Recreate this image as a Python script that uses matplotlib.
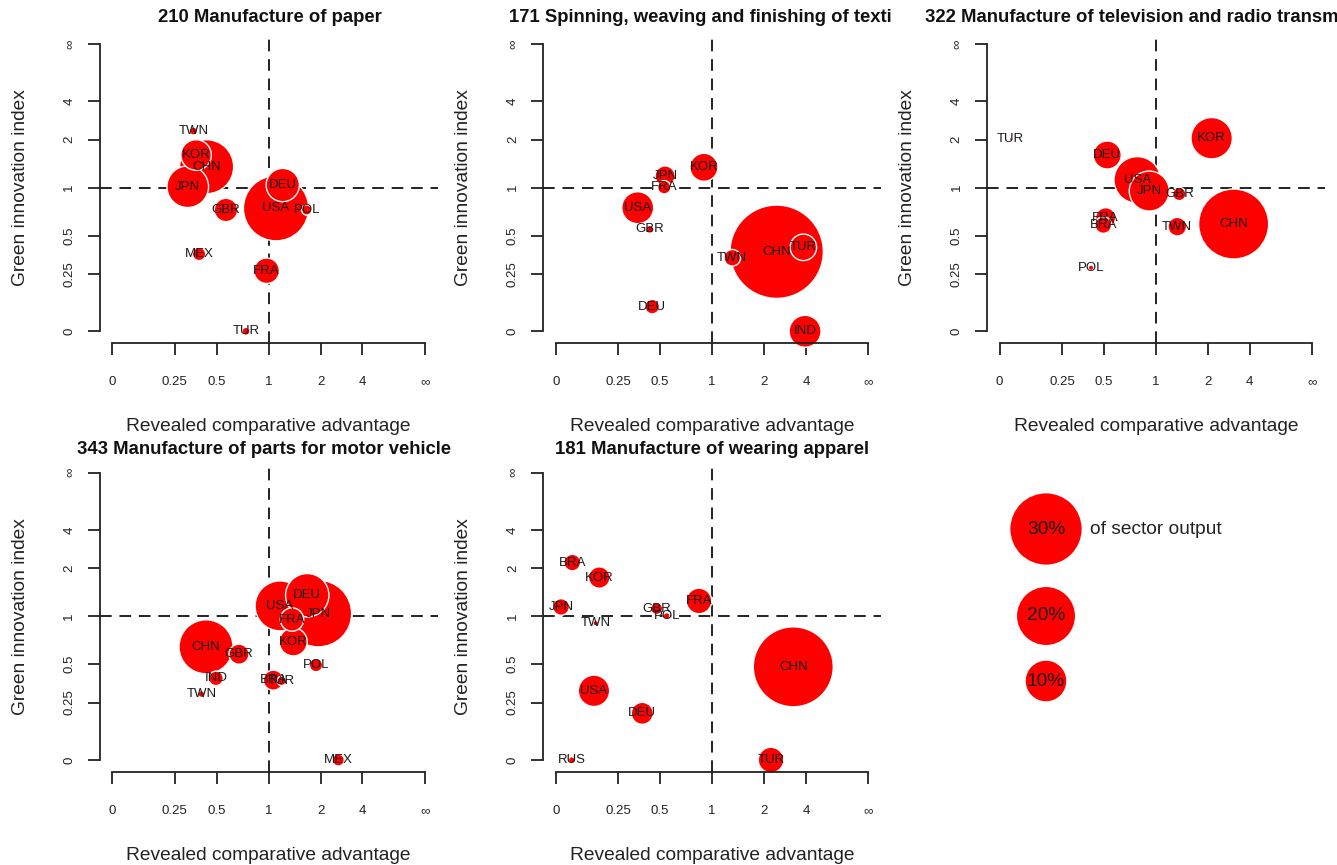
import numpy as np
import matplotlib.pyplot as plt

plt.rcParams['font.family'] = ['Liberation Sans', 'DejaVu Sans']

W, H = 1337, 865

# 210 Manufacture of paper
c210 = ["TWN", "KOR", "CHN", "JPN", "GBR", "MEX", "FRA", "TUR", "DEU", "USA", "POL"]
rca210 = [0.35, 0.366, 0.432, 0.318, 0.571, 0.384, 0.975, 0.747, 1.198, 1.099, 1.643]
gii210 = [2.30, 1.588, 1.341, 1.013, 0.731, 0.368, 0.267, 0.0, 1.037, 0.749, 0.731]
sh210 = [0.36, 5.3, 16.6, 9.85, 3.1, 1.0, 3.7, 0.36, 6.3, 24.2, 0.6]

# 171 Spinning, weaving and finishing of textiles
c171 = ["KOR", "JPN", "FRA", "USA", "GBR", "DEU", "TWN", "CHN", "TUR", "IND"]
rca171 = [0.90, 0.537, 0.531, 0.355, 0.429, 0.446, 1.296, 2.406, 3.80, 3.93]
gii171 = [1.33, 1.177, 1.005, 0.755, 0.55, 0.094, 0.344, 0.383, 0.413, 0.0]
sh171 = [4.46, 2.28, 1.0, 5.8, 0.36, 1.2, 1.57, 49.6, 4.0, 5.8]

# 322 Manufacture of television and radio transmitters
c322 = ["TUR", "DEU", "USA", "JPN", "GBR", "KOR", "CHN", "FRA", "BRA", "TWN", "POL"]
rca322 = [0.037, 0.526, 0.788, 0.919, 1.353, 2.11, 2.98, 0.514, 0.497, 1.318, 0.414]
gii322 = [2.02, 1.588, 1.113, 0.954, 0.915, 2.05, 0.596, 0.654, 0.587, 0.573, 0.284]
sh322 = [0.05, 4.46, 12.4, 9.1, 1.0, 9.75, 27.9, 2.28, 1.57, 1.97, 0.17]

# 343 Manufacture of parts for motor vehicles
c343 = ["CHN", "GBR", "IND", "TWN", "USA", "DEU", "JPN", "FRA", "KOR", "POL", "BRA", "TUR", "MEX"]
rca343 = [0.428, 0.681, 0.496, 0.398, 1.157, 1.656, 1.931, 1.351, 1.374, 1.869, 1.062, 1.182, 2.607]
gii343 = [0.650, 0.583, 0.397, 0.298, 1.157, 1.345, 1.04, 0.957, 0.698, 0.493, 0.385, 0.380, 0.0]
sh343 = [16.6, 2.28, 1.2, 0.25, 14.2, 10.7, 25.3, 3.1, 4.46, 1.0, 2.28, 0.5, 0.82]

# 181 Manufacture of wearing apparel
c181 = ["BRA", "KOR", "JPN", "TWN", "GBR", "POL", "FRA", "CHN", "USA", "DEU", "RUS", "TUR"]
rca181 = [0.0557, 0.1616, 0.017, 0.146, 0.476, 0.549, 0.845, 3.158, 0.139, 0.382, 0.0536, 2.207]
gii181 = [2.197, 1.74, 1.14, 0.909, 1.115, 1.006, 1.24, 0.48, 0.317, 0.194, 0.0, 0.0]
sh181 = [1.57, 2.6, 1.57, 0.17, 0.82, 0.25, 3.7, 36.4, 5.6, 2.75, 0.25, 3.7]

legend_shares = [30, 20, 10]

tick_vals = [0, 0.25, 0.5, 1, 2, 4, np.inf]
x_tick_labels = ["0", "0.25", "0.5", "1", "2", "4", "\u221e"]
y_tick_labels = ["0", "0.25", "0.5", "1", "2", "4", "\u221e"]


def squash(v):
    v = np.asarray(v, dtype=float)
    with np.errstate(invalid='ignore'):
        return np.where(np.isinf(v), 1.0, v / (1 + v))


def bubble_size(share):
    r_px = 36.3 * np.sqrt(np.asarray(share, dtype=float) / 30.0)
    return (2 * r_px * 72 / 100) ** 2


fig = plt.figure(figsize=(W / 100, H / 100), dpi=100)

panel_w, panel_h = 337.7, 310.3
lefts = [99.8, 543.3, 987.0]
bottoms = [342.8, 771.5]


def panel(col, row, cty, rca, gii, share):
    ax = fig.add_axes([lefts[col] / W, 1 - bottoms[row] / H, panel_w / W, panel_h / H])
    ax.set_xlim(-0.04, 1.04)
    ax.set_ylim(-0.04, 1.04)
    for s in ['top', 'right']:
        ax.spines[s].set_visible(False)
    for s in ['left', 'bottom']:
        ax.spines[s].set_bounds(0, 1)
        ax.spines[s].set_linewidth(1.3)
        ax.spines[s].set_color('#222222')
    ax.set_xticks(squash(tick_vals))
    ax.set_xticklabels(x_tick_labels, fontsize=9.5, color='#222222')
    ax.set_yticks(squash(tick_vals))
    ax.set_yticklabels(y_tick_labels, fontsize=9.5, rotation=90, va='center', color='#222222')
    ax.tick_params(axis='both', direction='out', length=8.6, width=1.3, color='#222222')
    ax.tick_params(axis='x', pad=15.5)
    ax.tick_params(axis='y', pad=9)
    ax.set_xlabel("Revealed comparative advantage", fontsize=13.8, color='#222222')
    ax.set_ylabel("Green innovation index", fontsize=13.8, color='#222222')
    ax.xaxis.set_label_coords(0.5, -0.242)
    ax.yaxis.set_label_coords(-0.21, 0.5)

    ax.axvline(0.5, color='#222222', lw=1.4, dashes=(6, 4), zorder=1)
    ax.axhline(0.5, color='#222222', lw=1.4, dashes=(6, 4), zorder=1)

    x = squash(rca)
    y = squash(gii)
    sh = np.asarray(share, dtype=float)
    order = np.argsort(-sh)
    ax.scatter(x[order], y[order], s=bubble_size(sh[order]), c='#ff0000',
               edgecolors='white', linewidths=1.0, zorder=2, clip_on=False)
    for name, xi, yi in zip(cty, x, y):
        ax.text(xi, yi, name, ha='center', va='center', fontsize=9.5,
                color='#1a1a1a', zorder=3, clip_on=False)
    return ax


panel(0, 0, c210, rca210, gii210, sh210)
panel(1, 0, c171, rca171, gii171, sh171)
panel(2, 0, c322, rca322, gii322, sh322)
panel(0, 1, c343, rca343, gii343, sh343)
panel(1, 1, c181, rca181, gii181, sh181)

title_kw = dict(fontsize=13.3, fontweight='bold', color='#111111', va='center')
fig.text(270 / W, 1 - 18 / H, "210 Manufacture of paper", ha='center', **title_kw)
fig.text(509 / W, 1 - 18 / H, "171 Spinning, weaving and finishing of texti", ha='left', **title_kw)
fig.text(925 / W, 1 - 18 / H, "322 Manufacture of television and radio transm", ha='left', **title_kw)
fig.text(77 / W, 1 - 449 / H, "343 Manufacture of parts for motor vehicle", ha='left', **title_kw)
fig.text(712 / W, 1 - 449 / H, "181 Manufacture of wearing apparel", ha='center', **title_kw)

# size legend
lax = fig.add_axes([0, 0, 1, 1])
lax.set_xlim(0, W)
lax.set_ylim(H, 0)
lax.axis('off')
leg_y = [529, 616, 681]
lax.scatter([1046] * len(legend_shares), leg_y, s=bubble_size(legend_shares),
            c='#ff0000', edgecolors='white', linewidths=1.0)
for sv, yy in zip(legend_shares, leg_y):
    lax.text(1046, yy, f"{sv}%", ha='center', va='center', fontsize=13.8, color='#1a1a1a')
lax.text(1090, leg_y[0], "of sector output", ha='left', va='center', fontsize=13.8, color='#222222')

fig.savefig("out.png", dpi=100)
